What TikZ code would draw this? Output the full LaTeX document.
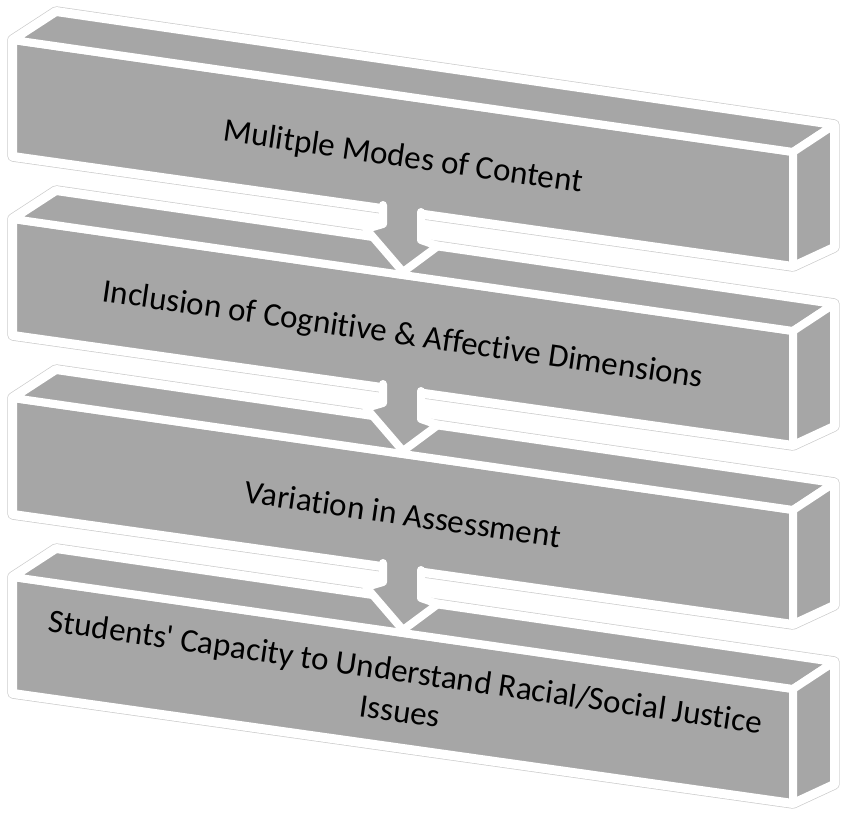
\documentclass[tikz,border=0pt]{standalone}
\usepackage{fontspec}
\setmainfont{Carlito}[Ligatures=NoCommon]
\definecolor{slabgrey}{RGB}{166,166,166}

\begin{document}
\begin{tikzpicture}[x=1pt, y=-1pt,
  rim/.style={draw=black!20, double=white, double distance=10pt, line width=0.7pt, line join=round},
  face/.style={fill=slabgrey, draw=white, line width=8pt, line join=round},
  arrowedge/.style={draw=white, line width=8pt, line join=round, line cap=round},
  slabtext/.style={font=\fontsize{33}{40}\selectfont, align=center, rotate=-8.2, text=black}]
\useasboundingbox (0,0) rectangle (841,814);

% Slabs, bottom one first
\foreach \dy in {537,358,179,0} {
  \begin{scope}[shift={(0,\dy)}]
    \draw[rim] (13,156) -- (13,40) -- (56,12) -- (834,125) -- (834,247) -- (793,266) -- cycle;
    \draw[face] (13,40) -- (793,152) -- (793,266) -- (13,156) -- cycle;
    \draw[face] (13,40) -- (56,12) -- (834,125) -- (793,152) -- cycle;
    \draw[face] (793,152) -- (834,125) -- (834,247) -- (793,266) -- cycle;
  \end{scope}
}

% Down arrows between the slabs
\foreach \dy in {0,179,358} {
  \begin{scope}[shift={(0,\dy)}]
    \fill[slabgrey] (383,170) -- (421,170) -- (421,240) -- (438,246) -- (403,272) -- (366,229) -- (383,224) -- cycle;
    \draw[arrowedge] (383,205) -- (383,224) -- (366,229) -- (403,272) -- (438,246) -- (421,240) -- (421,212);
  \end{scope}
}

% Labels
\node[slabtext] (modes) at (403,158) {Mulitple Modes of Content};
\node[slabtext] (inclusion) at (403,336) {Inclusion of Cognitive \& Affective Dimensions};
\node[slabtext] (variation) at (403,514) {Variation in Assessment};
\node[slabtext] (capacity) at (403,691) {Students\textquotesingle\ Capacity to Understand Racial/Social Justice\\Issues};
\end{tikzpicture}
\end{document}
